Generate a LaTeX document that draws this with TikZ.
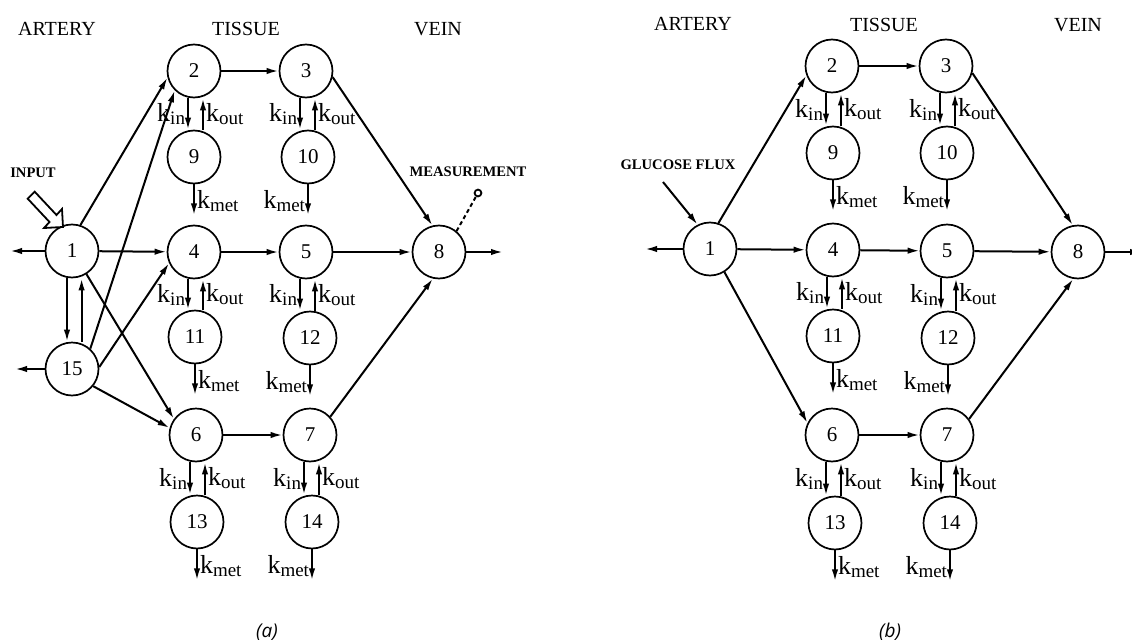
\documentclass[tikz,border=0pt]{standalone}
\usepackage{fontspec}
\setmainfont{Liberation Serif}
\newfontfamily\capfont{Open Sans}
\usetikzlibrary{arrows.meta}
% rate constant label, k with a lowered index
\newcommand{\rate}[1]{{\fontsize{13}{13}\selectfont k\raisebox{-0.25ex}{\fontsize{9.5}{9.5}\selectfont #1}}}

\begin{document}
\begin{tikzpicture}[x=0.5pt, y=-0.5pt, >={Latex[length=6pt,width=3.2pt]},
    comp/.style={draw, circle, line width=0.85pt, minimum size=26.5pt, inner sep=0pt, font=\fontsize{10.5}{10.5}\selectfont},
    flow/.style={->, line width=1pt},
    head/.style={font=\fontsize{10}{12}\selectfont},
    tag/.style={font=\bfseries\fontsize{7.3}{9}\selectfont, inner sep=0pt},
    klabel/.style={inner sep=1pt}]
    \useasboundingbox (0,0) rectangle (1132,643);

    % Model (a): compartments
    \node[comp] (a1) at (72,251) {1};
    \node[comp] (a15) at (72,369) {15};
    \node[comp] (a2) at (194,71) {2};
    \node[comp] (a3) at (306,71) {3};
    \node[comp] (a9) at (194,157) {9};
    \node[comp] (a10) at (308,157) {10};
    \node[comp] (a4) at (194,252) {4};
    \node[comp] (a5) at (306,252) {5};
    \node[comp] (a11) at (195,337) {11};
    \node[comp] (a12) at (310,338) {12};
    \node[comp] (a6) at (196,435) {6};
    \node[comp] (a7) at (310,435) {7};
    \node[comp] (a13) at (197,522) {13};
    \node[comp] (a14) at (312,522) {14};
    \node[comp] (a8) at (439,252) {8};

    % Model (b): compartments
    \node[comp] (b1) at (710,249) {1};
    \node[comp] (b2) at (832,66) {2};
    \node[comp] (b3) at (946,66) {3};
    \node[comp] (b9) at (833,153) {9};
    \node[comp] (b10) at (947,153) {10};
    \node[comp] (b4) at (833,250) {4};
    \node[comp] (b5) at (947,251) {5};
    \node[comp] (b11) at (833,336) {11};
    \node[comp] (b12) at (948,338) {12};
    \node[comp] (b6) at (832,435) {6};
    \node[comp] (b7) at (947,435) {7};
    \node[comp] (b13) at (835,523) {13};
    \node[comp] (b14) at (950,523) {14};
    \node[comp] (b8) at (1078,252) {8};

    % Headings
    \node[head] (aart) at (57,29) {ARTERY};
    \node[head] (atis) at (246,29) {TISSUE};
    \node[head] (avein) at (438,29) {VEIN};
    \node[head] (bart) at (693,24) {ARTERY};
    \node[head] (btis) at (884,25) {TISSUE};
    \node[head] (bvein) at (1078,25) {VEIN};
    \node[tag] (ainput) at (33,173) {INPUT};
    \node[tag] (ameas) at (468,172) {MEASUREMENT};
    \node[tag] (bglu) at (678,165) {GLUCOSE FLUX};
    \node[font=\capfont\itshape\fontsize{9.5}{11}\selectfont] (acap) at (267,632) {(a)};
    \node[font=\capfont\itshape\fontsize{9.5}{11}\selectfont] (bcap) at (890,632) {(b)};

    % Free ends
    \coordinate (aleft1) at (10,251);
    \coordinate (aleft15) at (15,369);
    \coordinate (aout) at (503,252);
    \coordinate (bleft1) at (645,249);
    \coordinate (bin) at (663,182);
    \coordinate (bout) at (1142,252);
    \node[draw, circle, line width=0.9pt, minimum size=3.4pt, inner sep=0pt] (probe) at (478,193) {};

    % Exchange with tissue and metabolism
    \foreach \p/\q/\side in {a2/a9/right, a3/a10/left, a4/a11/right, a5/a12/left, a6/a13/right, a7/a14/left,
                             b2/b9/right, b3/b10/left, b4/b11/right, b5/b12/left, b6/b13/right, b7/b14/left} {
      \draw[flow] ([xshift=-3pt]\p.south) -- node[left, klabel] {\rate{in}} ([xshift=-3pt]\p.south |- \q.north);
      \draw[flow] ([xshift=4.5pt]\p.south |- \q.north) -- node[right, klabel] {\rate{out}} ([xshift=4.5pt]\p.south);
      \draw[flow] (\q.south) -- node[\side, klabel, pos=0.55] {\rate{met}} ++(0,31);
    }

    % Model (a): flows
    \draw[flow] (a1.72) -- (a2.194);
    \draw[flow] (a1) -- (a4);
    \draw[flow] (a1.-58) -- (a6.144);
    \draw[flow] (a1) -- (aleft1);
    \draw[flow] ([xshift=-2.5pt]a1.south) -- ([xshift=-2.5pt]a15.north);
    \draw[flow] ([xshift=4.8pt]a15.north) -- ([xshift=4.8pt]a1.south);
    \draw[flow] (a15.48) -- (a2.225);
    \draw[flow] (a15.4) -- (a4.204);
    \draw[flow] (a15.-39) -- (a6.165);
    \draw[flow] (a15) -- (aleft15);
    \draw[flow] (a2) -- (a3);
    \draw[flow] (a4) -- (a5);
    \draw[flow] (a6) -- (a7);
    \draw[flow] (a3.-13) -- (a8.104);
    \draw[flow] (a5) -- (a8);
    \draw[flow] (a7.42) -- (a8.257);
    \draw[flow] (a8) -- (aout);
    \draw[line width=1pt, dash pattern=on 2pt off 1.5pt] (a8.50) -- (probe);
    % hollow input arrow
    \draw[line width=0.9pt, fill=white, line join=miter]
      (63,227) -- (62,209) -- (56.5,215) -- (34.7,191.7) -- (27.7,198.7) -- (49.5,222) -- (44,228) -- cycle;

    % Model (b): flows
    \draw[flow] (bin) -- (b1.117);
    \draw[flow] (b1.72) -- (b2.200);
    \draw[flow] (b1) -- (b4);
    \draw[flow] (b1.-58) -- (b6.154);
    \draw[flow] (b1) -- (bleft1);
    \draw[flow] (b2) -- (b3);
    \draw[flow] (b4) -- (b5);
    \draw[flow] (b6) -- (b7);
    \draw[flow] (b3.-15) -- (b8.101);
    \draw[flow] (b5) -- (b8);
    \draw[flow] (b7.36) -- (b8.260);
    \draw[flow] (b8) -- (bout);
\end{tikzpicture}
\end{document}
